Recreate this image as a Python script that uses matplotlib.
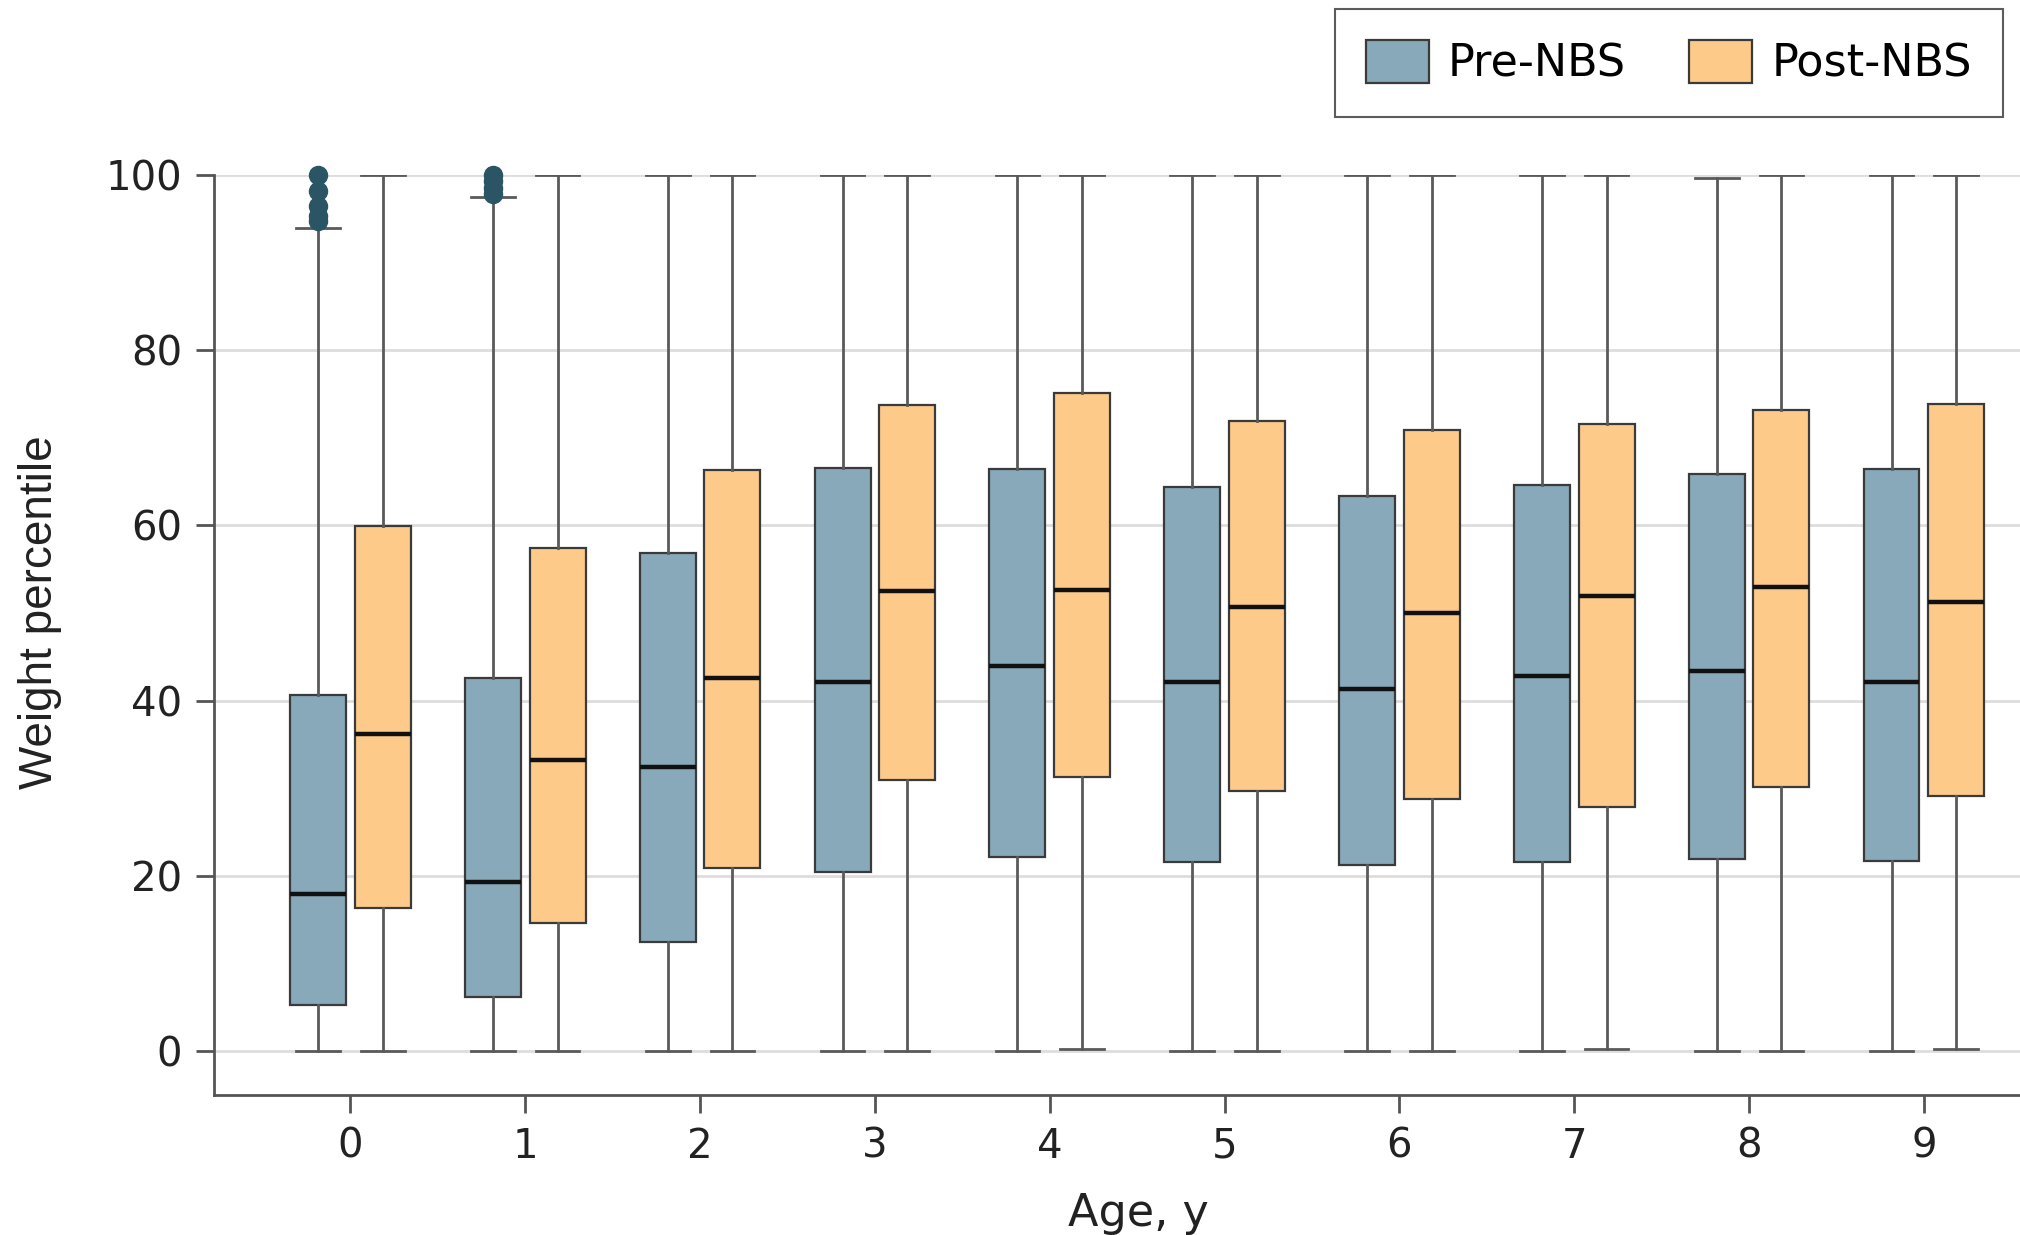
import matplotlib
matplotlib.use("Agg")
import matplotlib.pyplot as plt
from matplotlib.patches import Patch

ages = [0, 1, 2, 3, 4, 5, 6, 7, 8, 9]

# weight percentile summary per age (whisker low, Q1, median, Q3, whisker high)
pre_lo = [0, 0, 0, 0, 0, 0, 0, 0, 0, 0]
pre_q1 = [5.3, 6.2, 12.5, 20.4, 22.2, 21.6, 21.3, 21.6, 21.9, 21.7]
pre_med = [17.9, 19.3, 32.4, 42.1, 44.0, 42.1, 41.3, 42.8, 43.4, 42.1]
pre_q3 = [40.7, 42.6, 56.9, 66.6, 66.5, 64.4, 63.4, 64.6, 65.9, 66.5]
pre_hi = [94.0, 97.5, 100, 100, 100, 100, 100, 100, 99.7, 100]
pre_out = [[94.7, 95.3, 96.5, 98.2, 100], [97.8, 98.5, 99.3, 100], [], [], [], [], [], [], [], []]

post_lo = [0, 0, 0, 0, 0.3, 0, 0, 0.3, 0, 0.3]
post_q1 = [16.3, 14.6, 20.9, 30.9, 31.3, 29.7, 28.8, 27.9, 30.1, 29.1]
post_med = [36.2, 33.2, 42.6, 52.5, 52.6, 50.7, 50.0, 51.9, 53.0, 51.3]
post_q3 = [59.9, 57.4, 66.3, 73.8, 75.1, 71.9, 70.9, 71.6, 73.2, 73.9]
post_hi = [100, 100, 100, 100, 100, 100, 100, 100, 100, 100]
post_out = [[] for a in ages]

pre_color = "#87a9b9"
post_color = "#fdca8a"
flier_color = "#2b5564"


def make_stats(lo, q1, med, q3, hi, out):
    return [{"whislo": lo[i], "q1": q1[i], "med": med[i], "q3": q3[i],
             "whishi": hi[i], "fliers": out[i]} for i in range(len(lo))]


fig = plt.figure(figsize=(20.2, 12.35), dpi=100)
ax = fig.add_axes([0.106, 0.1134, 0.894, 0.7449])

off = 0.185
width = 0.32
for stats, color, sign in [(make_stats(pre_lo, pre_q1, pre_med, pre_q3, pre_hi, pre_out), pre_color, -1),
                           (make_stats(post_lo, post_q1, post_med, post_q3, post_hi, post_out), post_color, 1)]:
    ax.bxp(stats, positions=[a + sign * off for a in ages], widths=width,
           capwidths=width * 0.78, patch_artist=True, manage_ticks=False,
           boxprops=dict(facecolor=color, edgecolor="#3a3a3a", linewidth=1.6),
           medianprops=dict(color="#111111", linewidth=3.2),
           whiskerprops=dict(color="#5a5a5a", linewidth=2),
           capprops=dict(color="#5a5a5a", linewidth=2),
           flierprops=dict(marker="o", markerfacecolor=flier_color, markeredgecolor=flier_color,
                           markersize=13, clip_on=False),
           zorder=3)

ax.set_xlim(-0.78, 9.55)
ax.set_ylim(-5, 100)
ax.set_yticks([0, 20, 40, 60, 80, 100])
ax.set_xticks(ages)
ax.grid(axis="y", color="#dddddd", linewidth=2, zorder=0)
ax.set_axisbelow(True)

for s in ["top", "right"]:
    ax.spines[s].set_visible(False)
for s in ["left", "bottom"]:
    ax.spines[s].set_color("#555555")
    ax.spines[s].set_linewidth(2)
ax.spines["left"].set_bounds(-5, 100)
ax.tick_params(axis="both", colors="#555555", width=2, length=13, labelsize=29,
               labelcolor="#222222", pad=10)

ax.set_xlabel("Age, y", fontsize=32, color="#222222")
ax.xaxis.set_label_coords(0.512, -0.105)
ax.set_ylabel("Weight percentile", fontsize=33, color="#222222",
              family=["Liberation Sans", "DejaVu Sans"])
ax.yaxis.set_label_coords(-0.084, 0.525)

handles = [Patch(facecolor=pre_color, edgecolor="#3a3a3a", linewidth=1.6, label="Pre-NBS"),
           Patch(facecolor=post_color, edgecolor="#3a3a3a", linewidth=1.6, label="Post-NBS")]
leg = fig.legend(handles=handles, loc="upper right", bbox_to_anchor=(0.9916, 0.9927), ncol=2,
                 frameon=True, fancybox=False, edgecolor="#333333", borderaxespad=0,
                 handlelength=1.42, handleheight=1.1, handletextpad=0.43, columnspacing=1.42,
                 borderpad=0.7, prop=dict(size=32, family=["DejaVu Sans"]))
leg.get_frame().set_linewidth(1.5)

fig.savefig("out.png", dpi=100, facecolor="white")
